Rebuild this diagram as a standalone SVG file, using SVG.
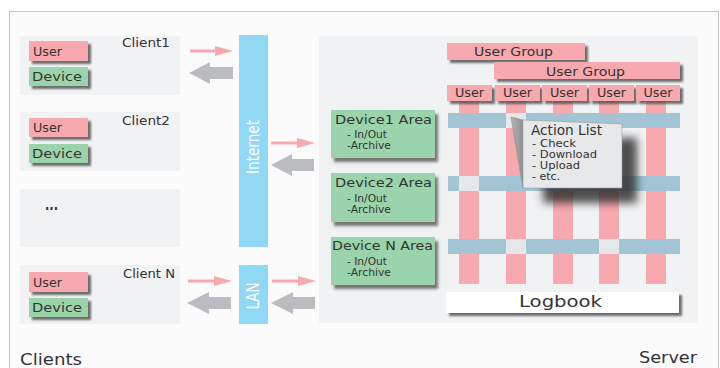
<svg xmlns="http://www.w3.org/2000/svg" width="720" height="368" viewBox="0 0 720 368">
<defs>
<filter id="sh" x="-20%" y="-20%" width="150%" height="160%">
<feDropShadow dx="3" dy="3" stdDeviation="1" flood-color="#4a4a4a" flood-opacity="0.8"/>
</filter>
<filter id="sh2" x="-20%" y="-20%" width="150%" height="160%">
<feDropShadow dx="3" dy="4" stdDeviation="1.8" flood-color="#4a4a4a" flood-opacity="0.75"/>
</filter>
<filter id="blur" x="-30%" y="-30%" width="160%" height="160%">
<feGaussianBlur stdDeviation="4"/>
</filter>
<linearGradient id="fold" x1="0" y1="0" x2="1" y2="0">
<stop offset="0" stop-color="#b4b6b9"/>
<stop offset="1" stop-color="#8c8f93"/>
</linearGradient>
</defs>
<style>
text{font-family:"DejaVu Sans","Liberation Sans",sans-serif;fill:#333;}
.pink{fill:#f7a9ad;}
.green{fill:#9bd3ab;}
.cbox{fill:#f1f2f4;}
.net{fill:#8fd8f6;}
.row{fill:#a3c4d4;}
.cell{fill:#e6e7e8;}
.pa{fill:#f7a9ad;}
.ga{fill:#bbbcc0;}
.s12{font-size:12px;}
.s13{font-size:13px;}
.s11{font-size:10.5px;}
.s16{font-size:16px;}
.wt{fill:#ffffff;font-size:17px;}
</style>
<rect x="9.5" y="11.5" width="709" height="380" fill="#fbfbfb" stroke="#c6c6c6" stroke-width="1"/>

<!-- Clients -->
<g id="client1">
<rect class="cbox" x="20" y="36" width="160" height="59"/>
<text class="s12" x="122" y="47" textLength="48" lengthAdjust="spacingAndGlyphs">Client1</text>
<rect class="pink" x="29" y="41" width="59" height="20" filter="url(#sh)"/>
<text class="s12" x="33" y="56" textLength="29" lengthAdjust="spacingAndGlyphs">User</text>
<rect class="green" x="29" y="67" width="59" height="19" filter="url(#sh)"/>
<text class="s12" x="32" y="81" textLength="50" lengthAdjust="spacingAndGlyphs">Device</text>
</g>
<g id="client2">
<rect class="cbox" x="20" y="112" width="160" height="59"/>
<text class="s12" x="122" y="125" textLength="48" lengthAdjust="spacingAndGlyphs">Client2</text>
<rect class="pink" x="29" y="118" width="59" height="19" filter="url(#sh)"/>
<text class="s12" x="33" y="132" textLength="29" lengthAdjust="spacingAndGlyphs">User</text>
<rect class="green" x="29" y="144" width="59" height="19" filter="url(#sh)"/>
<text class="s12" x="32" y="158" textLength="50" lengthAdjust="spacingAndGlyphs">Device</text>
</g>
<g id="client-more">
<rect class="cbox" x="20" y="189" width="160" height="58"/>
<text x="45" y="210" font-size="16" font-weight="bold" textLength="13" lengthAdjust="spacingAndGlyphs">...</text>
</g>
<g id="clientN">
<rect class="cbox" x="20" y="265" width="160" height="59"/>
<text class="s12" x="123" y="278" textLength="52" lengthAdjust="spacingAndGlyphs">Client N</text>
<rect class="pink" x="29" y="272" width="59" height="20" filter="url(#sh)"/>
<text class="s12" x="33" y="287" textLength="29" lengthAdjust="spacingAndGlyphs">User</text>
<rect class="green" x="29" y="298" width="59" height="19" filter="url(#sh)"/>
<text class="s12" x="32" y="312" textLength="50" lengthAdjust="spacingAndGlyphs">Device</text>
</g>
<text id="clients-label" class="s16" x="20" y="365" textLength="62" lengthAdjust="spacingAndGlyphs">Clients</text>

<!-- Networks -->
<g id="internet">
<rect class="net" x="239" y="35" width="29" height="212"/>
<text class="wt" transform="translate(259,147) rotate(-90)" text-anchor="middle" textLength="54" lengthAdjust="spacingAndGlyphs">Internet</text>
</g>
<g id="lan">
<rect class="net" x="239" y="265" width="29" height="59"/>
<text class="wt" transform="translate(259,296) rotate(-90)" text-anchor="middle" textLength="27" lengthAdjust="spacingAndGlyphs">LAN</text>
</g>

<!-- Server -->
<g id="server">
<rect class="cbox" x="319" y="36" width="379" height="287"/>
</g>
<text id="server-label" class="s16" x="639" y="363" textLength="58" lengthAdjust="spacingAndGlyphs">Server</text>

<!-- Connectors -->
<g id="connectors">
<path class="pa" d="M190 49.5H215V46L233 51L215 56V52.5H190Z"/>
<path class="ga" d="M233 67H210V62L189 73L210 84V79H233Z"/>
<path class="pa" d="M271 141.5H297V138L315 143L297 148V144.5H271Z"/>
<path class="ga" d="M314 159H292V154L271 165L292 176V171H314Z"/>
<path class="pa" d="M188 279.5H214V276L232 281L214 286V282.5H188Z"/>
<path class="ga" d="M231 297H209V292L187 303L209 314V309H231Z"/>
<path class="pa" d="M272 279.5H298V276L316 281L298 286V282.5H272Z"/>
<path class="ga" d="M315 297H293V292L271 303L293 314V309H315Z"/>
</g>

<!-- Grid -->
<g id="grid">
<rect class="pink" x="459" y="100" width="20" height="184"/>
<rect class="pink" x="506" y="100" width="20" height="184"/>
<rect class="pink" x="553" y="100" width="20" height="184"/>
<rect class="pink" x="599" y="100" width="20" height="184"/>
<rect class="pink" x="646" y="100" width="20" height="184"/>
<rect class="row" x="448" y="113" width="232" height="15"/>
<rect class="row" x="448" y="176" width="232" height="15"/>
<rect class="row" x="448" y="239" width="232" height="15"/>
<rect class="cell" x="506" y="113" width="20" height="15"/>
<rect class="cell" x="459" y="176" width="20" height="15"/>
<rect class="cell" x="506" y="239" width="20" height="15"/>
<rect class="cell" x="599" y="239" width="20" height="15"/>
</g>

<!-- Device areas -->
<g id="device1">
<rect class="green" x="331" y="110" width="104" height="48" filter="url(#sh2)"/>
<text class="s13" x="335" y="124" textLength="97" lengthAdjust="spacingAndGlyphs">Device1  Area</text>
<text class="s11" x="347" y="138" textLength="40" lengthAdjust="spacingAndGlyphs">- In/Out</text>
<text class="s11" x="347" y="149" textLength="44" lengthAdjust="spacingAndGlyphs">-Archive</text>
</g>
<g id="device2">
<rect class="green" x="331" y="173" width="104" height="49" filter="url(#sh2)"/>
<text class="s13" x="335" y="187" textLength="97" lengthAdjust="spacingAndGlyphs">Device2  Area</text>
<text class="s11" x="347" y="202" textLength="40" lengthAdjust="spacingAndGlyphs">- In/Out</text>
<text class="s11" x="347" y="213" textLength="44" lengthAdjust="spacingAndGlyphs">-Archive</text>
</g>
<g id="deviceN">
<rect class="green" x="331" y="237" width="104" height="48" filter="url(#sh2)"/>
<text class="s13" x="332" y="250" textLength="101" lengthAdjust="spacingAndGlyphs">Device N Area</text>
<text class="s11" x="347" y="265" textLength="40" lengthAdjust="spacingAndGlyphs">- In/Out</text>
<text class="s11" x="347" y="276" textLength="44" lengthAdjust="spacingAndGlyphs">-Archive</text>
</g>

<!-- User groups -->
<g id="usergroup1">
<rect class="pink" x="447" y="43" width="138" height="17" filter="url(#sh)"/>
<text class="s13" x="474" y="56" textLength="79" lengthAdjust="spacingAndGlyphs">User Group</text>
</g>
<g id="usergroup2">
<rect class="pink" x="494" y="62" width="186" height="17" filter="url(#sh)"/>
<text class="s13" x="546" y="76" textLength="79" lengthAdjust="spacingAndGlyphs">User Group</text>
</g>
<g id="user1"><rect class="pink" x="447" y="85" width="45" height="16" filter="url(#sh)"/><text class="s13" x="469.5" y="97" text-anchor="middle" textLength="29" lengthAdjust="spacingAndGlyphs">User</text></g>
<g id="user2"><rect class="pink" x="495" y="85" width="45" height="16" filter="url(#sh)"/><text class="s13" x="517.5" y="97" text-anchor="middle" textLength="29" lengthAdjust="spacingAndGlyphs">User</text></g>
<g id="user3"><rect class="pink" x="542" y="85" width="45" height="16" filter="url(#sh)"/><text class="s13" x="564.5" y="97" text-anchor="middle" textLength="29" lengthAdjust="spacingAndGlyphs">User</text></g>
<g id="user4"><rect class="pink" x="589" y="85" width="45" height="16" filter="url(#sh)"/><text class="s13" x="611.5" y="97" text-anchor="middle" textLength="29" lengthAdjust="spacingAndGlyphs">User</text></g>
<g id="user5"><rect class="pink" x="636" y="85" width="44" height="16" filter="url(#sh)"/><text class="s13" x="658" y="97" text-anchor="middle" textLength="29" lengthAdjust="spacingAndGlyphs">User</text></g>

<!-- Action list callout -->
<g id="action-list">
<rect x="543" y="138" width="94" height="65" fill="#333" opacity="0.85" filter="url(#blur)"/>
<polygon points="511,117 523,120 523,188" fill="url(#fold)"/>
<polygon points="523,120 622,124 622,188 523,188" fill="#e7e8e9" stroke="#9a9a9a" stroke-width="0.6"/>
<path d="M511 117L523 120M511 117L523 188" stroke="#8a8a8a" stroke-width="0.6" fill="none"/>
<text x="531" y="135" font-size="14" textLength="71" lengthAdjust="spacingAndGlyphs">Action List</text>
<text class="s11" x="532" y="147" textLength="44" lengthAdjust="spacingAndGlyphs">- Check</text>
<text class="s11" x="532" y="158" textLength="65" lengthAdjust="spacingAndGlyphs">- Download</text>
<text class="s11" x="532" y="169" textLength="48" lengthAdjust="spacingAndGlyphs">- Upload</text>
<text class="s11" x="532" y="180" textLength="28" lengthAdjust="spacingAndGlyphs">- etc.</text>
</g>

<!-- Logbook -->
<g id="logbook">
<rect x="446" y="292" width="233" height="21" fill="#ffffff" filter="url(#sh)"/>
<text class="s16" x="519" y="307" fill="#444" textLength="83" lengthAdjust="spacingAndGlyphs">Logbook</text>
</g>
</svg>
